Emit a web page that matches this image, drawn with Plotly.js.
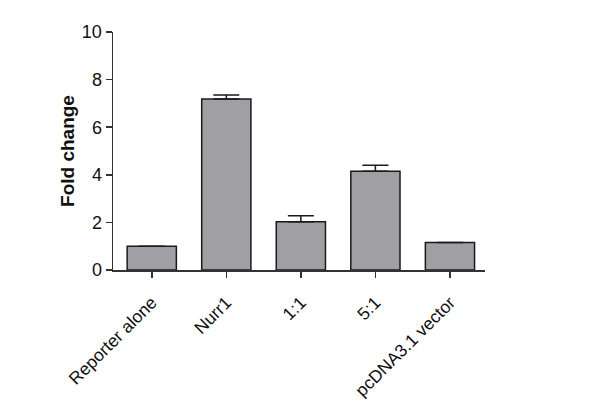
<!DOCTYPE html>
<html>
<head>
<meta charset="utf-8">
<script src="https://cdn.plot.ly/plotly-3.0.1.min.js"></script>
<style>
  body { margin: 0; background: #fff; }
  #plot { width: 600px; height: 405px; }
</style>
</head>
<body>
<div id="plot"></div>
<script>
// data
const groups = ['Reporter alone', 'Nurr1', '1:1', '5:1', 'pcDNA3.1 vector'];
const foldChange = [1.0, 7.18, 2.03, 4.15, 1.16];
const errUp = [0, 0.17, 0.25, 0.25, 0];

const font = 'Liberation Sans, Arial, sans-serif';

const data = [{
    type: 'bar',
    x: groups,
    y: foldChange,
    width: 0.66,
    marker: { color: '#a0a0a4', line: { color: '#1a1a1a', width: 1.5 } },
    error_y: {
        type: 'data',
        array: errUp,
        symmetric: false,
        arrayminus: [0, 0, 0, 0, 0],
        color: '#1a1a1a',
        thickness: 1.5,
        width: 13
    }
}];

const layout = {
    width: 600,
    height: 405,
    margin: { l: 113, r: 115, t: 32, b: 135 },
    paper_bgcolor: '#fff',
    plot_bgcolor: '#fff',
    showlegend: false,
    font: { family: font, color: '#111' },
    xaxis: {
        range: [-0.52, 4.47],
        showline: true,
        linecolor: '#333',
        linewidth: 1.5,
        ticks: 'outside',
        ticklen: 6,
        tickwidth: 1.5,
        tickcolor: '#333',
        tickangle: -45,
        ticklabelstandoff: 8,
        tickfont: { size: 17.5, family: font, color: '#111' },
        showgrid: false,
        zeroline: false
    },
    yaxis: {
        range: [0, 10],
        tickvals: [0, 2, 4, 6, 8, 10],
        showline: true,
        linecolor: '#333',
        linewidth: 1.5,
        ticks: 'outside',
        ticklen: 6,
        tickwidth: 1.5,
        tickcolor: '#333',
        tickfont: { size: 18, family: font, color: '#111' },
        showgrid: false,
        zeroline: false,
        title: { text: '<b>Fold change</b>', font: { size: 19, family: font, color: '#111' }, standoff: 2 }
    }
};

Plotly.newPlot('plot', data, layout, { displayModeBar: false, staticPlot: true });
</script>
</body>
</html>
